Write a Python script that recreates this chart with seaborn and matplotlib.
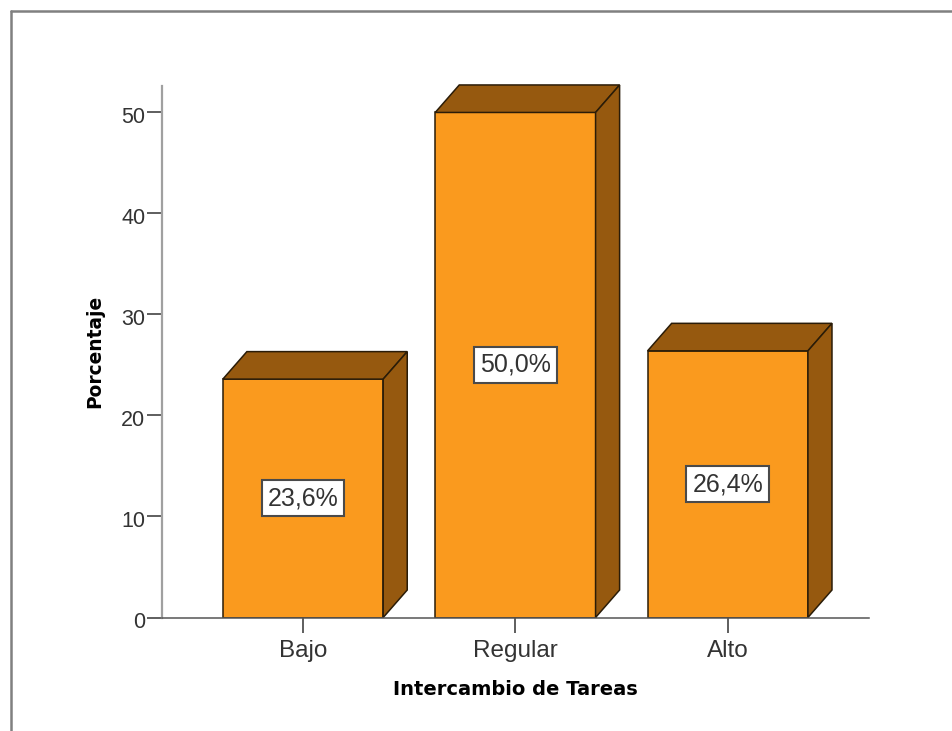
import matplotlib
matplotlib.use('Agg')
import matplotlib.pyplot as plt
from matplotlib.lines import Line2D
from matplotlib.patches import Polygon
from matplotlib.transforms import ScaledTranslation
import pandas as pd
import seaborn as sns

categories = ['Bajo', 'Regular', 'Alto']
percentages = [23.6, 50.0, 26.4]
labels = ['23,6%', '50,0%', '26,4%']
y_ticks = [0, 10, 20, 30, 40, 50]

FRONT = '#FA9A1E'
TOP = '#96590F'
EDGE = '#2A1C08'
W, H = 953, 731

sns.set_theme(style='white')
plt.rcParams['font.family'] = ['Liberation Sans', 'DejaVu Sans']

df = pd.DataFrame({'cat': categories, 'pct': percentages})

fig = plt.figure(figsize=(W / 100, H / 100), dpi=100, facecolor='white')
ax = fig.add_axes([162 / W, 1 - 617.5 / H, 707 / W, 531.5 / H])

sns.barplot(data=df, x='cat', y='pct', order=categories, color=FRONT, saturation=1,
            width=0.755, edgecolor=EDGE, linewidth=1.1, ax=ax, zorder=3)

ax.set_xlim(-0.664, 2.665)
ax.set_ylim(0, 52.62)

# fake 3d depth of the bars
dx = 24 / 212
dy = 27.5 / 10.1
for bar in ax.patches:
    x0 = bar.get_x()
    x1 = x0 + bar.get_width()
    h = bar.get_height()
    ax.add_patch(Polygon([(x0, h), (x1, h), (x1 + dx, h + dy), (x0 + dx, h + dy)], closed=True,
                         facecolor=TOP, edgecolor=EDGE, linewidth=1.1, clip_on=False, zorder=4))
    ax.add_patch(Polygon([(x1, 0), (x1 + dx, dy), (x1 + dx, h + dy), (x1, h)], closed=True,
                         facecolor=TOP, edgecolor=EDGE, linewidth=1.1, clip_on=False, zorder=4))
    ax.text(x0 + bar.get_width() / 2, h / 2, labels[int(round(x0 + bar.get_width() / 2))],
            ha='center', va='center', fontsize=18, color='#333333', zorder=6,
            bbox=dict(boxstyle='square,pad=0.24', facecolor='white', edgecolor='#4a4a4a', linewidth=1.5))

for side in ['top', 'right']:
    ax.spines[side].set_visible(False)
ax.spines['left'].set_color('#a0a0a0')
ax.spines['left'].set_linewidth(1.6)
ax.spines['bottom'].set_color('#555555')
ax.spines['bottom'].set_linewidth(1.1)
ax.spines['bottom'].set_zorder(5)

ax.set_yticks(y_ticks)
ax.tick_params(axis='both', which='major', left=True, bottom=True, width=1.1,
               color='#333333', labelcolor='#333333')
ax.tick_params(axis='y', length=11, pad=1, labelsize=15.5)
ax.tick_params(axis='x', length=11, pad=5, labelsize=17.5)

# spss puts the y numbers a bit under the tick
for lab in ax.get_yticklabels():
    lab.set_transform(lab.get_transform() + ScaledTranslation(0, -3 / 100, fig.dpi_scale_trans))

ax.set_xlabel('Intercambio de Tareas', fontsize=14, fontweight='bold', color='black',
              family='DejaVu Sans', labelpad=13)
ax.set_ylabel('Porcentaje', fontsize=13.4, fontweight='bold', color='black',
              family='DejaVu Sans', labelpad=12.5)

# window frame around the chart
frame = '#808080'
fig.add_artist(Line2D([11 / W, 11 / W], [0, 1 - 11 / H], color=frame, linewidth=1.8))
fig.add_artist(Line2D([11 / W, 1], [1 - 11 / H, 1 - 11 / H], color=frame, linewidth=1.8))

fig.savefig('out.png', dpi=100, facecolor='white')
